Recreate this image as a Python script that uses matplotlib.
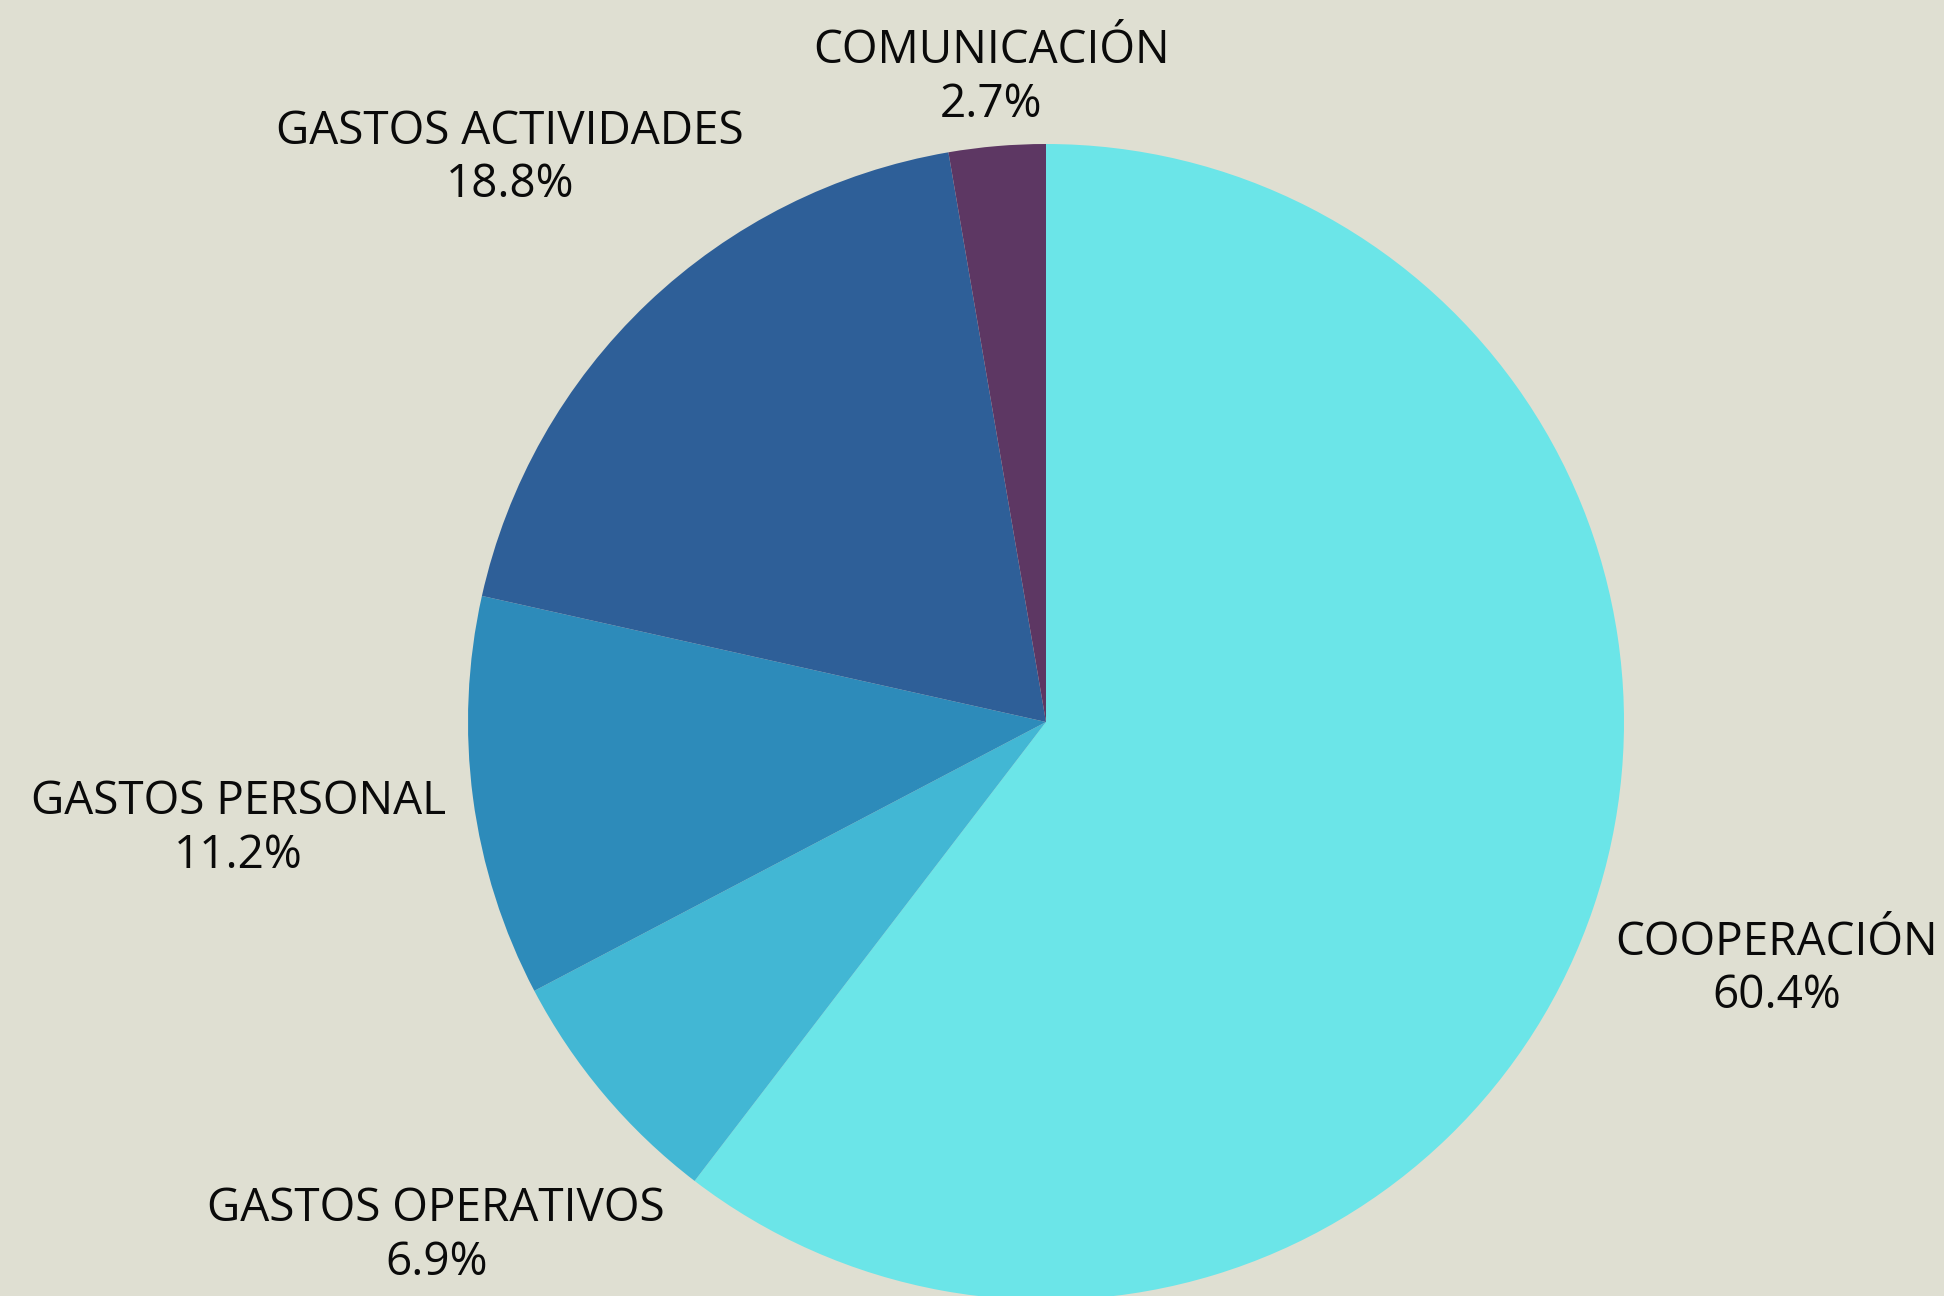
import numpy as np
import matplotlib.pyplot as plt

# datos del presupuesto
categorias = ['COOPERACIÓN', 'GASTOS OPERATIVOS', 'GASTOS PERSONAL',
              'GASTOS ACTIVIDADES', 'COMUNICACIÓN']
porcentajes = [60.4, 6.9, 11.2, 18.8, 2.7]
colores = ['#6BE5E8', '#42B7D4', '#2D8BBA', '#2E5F98', '#5D3763']
# distancia de cada etiqueta al centro (en radios)
dist_etiqueta = [1.335, 1.38, 1.41, 1.345, 1.118]

fondo = '#DFDFD2'
plt.rcParams['font.family'] = ['Open Sans', 'DejaVu Sans']

fig = plt.figure(figsize=(19.44, 12.96), dpi=100, facecolor=fondo)
ax = fig.add_axes([0, 0, 1, 1])
ax.set_facecolor(fondo)

wedges, _ = ax.pie(porcentajes, colors=colores, startangle=90, counterclock=False,
                   radius=1, wedgeprops=dict(linewidth=0))

# pie() pone sus propios limites, se fijan despues
R = 578.0
cx, cy = 1046.0, 1296 - 722.0
ax.set_xlim(-cx / R, (1944 - cx) / R)
ax.set_ylim(-cy / R, (1296 - cy) / R)
ax.axis('off')

for w, cat, p, d in zip(wedges, categorias, porcentajes, dist_etiqueta):
    ang = np.deg2rad((w.theta1 + w.theta2) / 2)
    ax.text(d * np.cos(ang), d * np.sin(ang), cat + '\n' + f'{p:.1f}%',
            ha='center', va='center', fontsize=33, color='#0a0a0a', linespacing=1.22)

fig.savefig('out.png', dpi=100, facecolor=fondo)
